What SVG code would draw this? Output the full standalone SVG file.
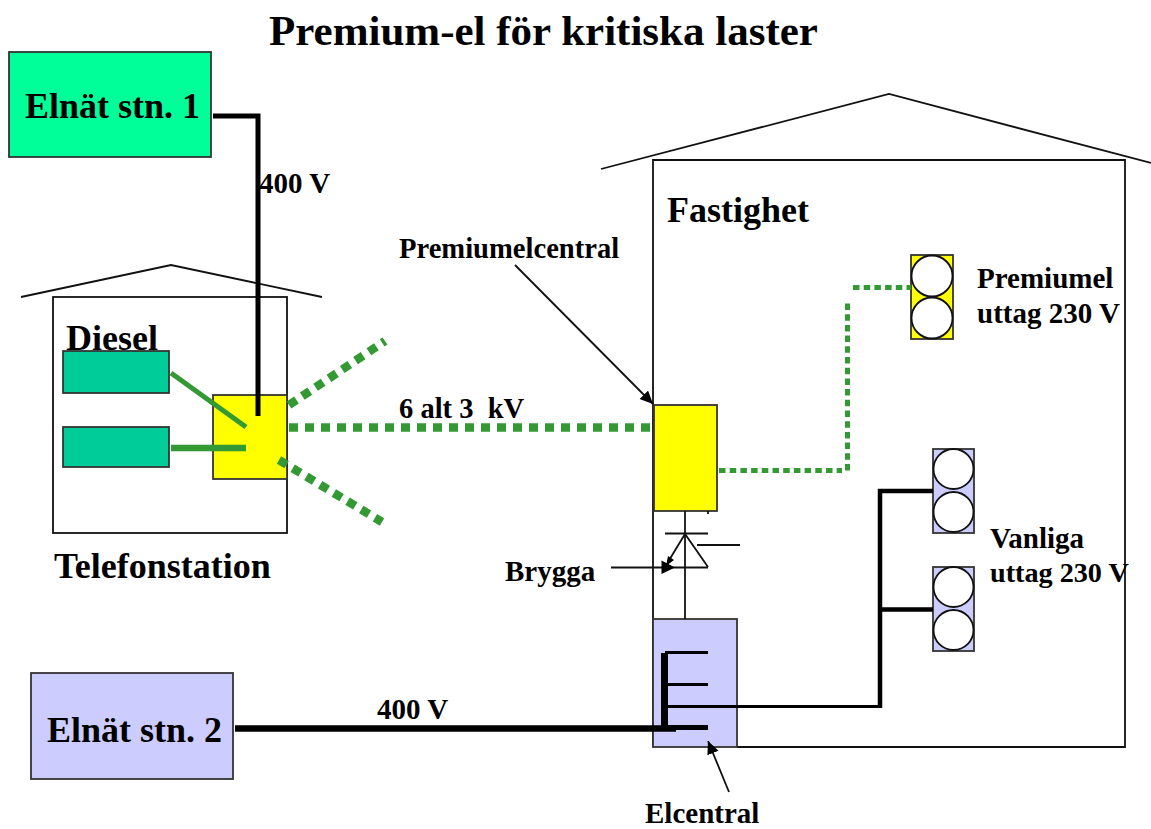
<svg xmlns="http://www.w3.org/2000/svg" width="1151" height="829" viewBox="0 0 1151 829">
<style>
text{font-family:"Liberation Serif","Times New Roman",serif;font-weight:bold;fill:#000}
.t33{font-size:36px}.t27{font-size:29px}
.box{stroke:#333;stroke-width:1.8}
.o{fill:none;stroke:#111;stroke-width:1.8}
.c{fill:#fff;stroke:#111;stroke-width:1.8}
.k{fill:none;stroke:#000}
.g{fill:none;stroke:#339933}
.a{fill:none;stroke:#111;stroke-width:1.8}
</style>
<defs><marker id="ah" markerUnits="userSpaceOnUse" markerWidth="14" markerHeight="14" refX="13" refY="6" orient="auto"><path d="M0,0L13,6L0,12Z" fill="#000"/></marker></defs>
<rect width="1151" height="829" fill="#fff"/>
<text id="title" x="269" y="45" font-size="43px">Premium-el för kritiska laster</text>
<g id="house-fastighet"><path class="o" d="M601,169L889,94L1151,163"/><path class="o" d="M653,747V160H1125V747H737"/><text class="t33" x="667" y="222">Fastighet</text></g>
<g id="house-telefon"><path class="o" d="M21,297L171,265L322,297"/><rect class="o" x="53" y="297" width="234" height="236"/><text class="t33" x="66" y="350">Diesel</text><text class="t33" x="54" y="578">Telefonstation</text></g>
<g id="elnat1"><rect class="box" x="9" y="52" width="202" height="105" fill="#00ff99"/><text class="t33" x="25" y="118">Elnät stn. 1</text></g>
<g id="elnat2"><rect class="box" x="31" y="673" width="202" height="106" fill="#ccccff"/><text class="t33" x="47" y="742">Elnät stn. 2</text></g>
<g id="diesel1"><rect class="box" x="63" y="351" width="106" height="42" fill="#00cc99"/></g>
<g id="diesel2"><rect class="box" x="63" y="427" width="106" height="40" fill="#00cc99"/></g>
<g id="central-tele"><rect class="box" x="213" y="395" width="74" height="84" fill="#ffff00"/></g>
<g id="premiumelcentral"><rect class="box" x="654" y="405" width="63" height="106" fill="#ffff00"/></g>
<g id="elcentral"><rect class="box" x="653" y="619" width="84" height="128" fill="#ccccff"/></g>
<g id="uttag-premium"><rect class="box" x="911" y="255" width="42" height="84" fill="#ffff00"/><circle class="c" cx="932" cy="276" r="20.5"/><circle class="c" cx="932" cy="318" r="20.5"/></g>
<g id="uttag-1"><rect class="box" x="933" y="449" width="41" height="84" fill="#ccccff"/><circle class="c" cx="953.500" cy="469" r="20"/><circle class="c" cx="953.500" cy="512" r="20"/></g>
<g id="uttag-2"><rect class="box" x="933" y="567" width="41" height="84" fill="#ccccff"/><circle class="c" cx="953.500" cy="587" r="20"/><circle class="c" cx="953.500" cy="630" r="20"/></g>
<g id="connectors">
<path class="k" stroke-width="5" d="M213,116H258V416"/>
<path class="g" stroke-width="5" d="M171,373L246,427"/>
<path class="g" stroke-width="6.500" d="M171,448H246"/>
<path class="g" stroke-width="8.500" stroke-dasharray="9 7" d="M289,405L385,341"/>
<path class="g" stroke-width="8.500" stroke-dasharray="9 7" d="M289,427.500H654"/>
<path class="g" stroke-width="8.500" stroke-dasharray="9 7" d="M279,460L382,522"/>
<path class="g" stroke-width="5" stroke-dasharray="6.500 4.200" d="M719,470.500H842"/>
<path class="g" stroke-width="5" stroke-dasharray="6.500 4.200" d="M847.500,470.500V303"/>
<path class="g" stroke-width="5" stroke-dasharray="6.500 4.200" d="M853,287.500H911"/>
<path class="k" stroke-width="6.500" d="M235,728.500H676"/>
<path class="k" stroke-width="7" d="M664.500,653V726"/>
<path class="k" stroke-width="3" d="M665,652.500H708M665,684.500H708"/>
<path class="k" stroke-width="5" d="M665,727.500H708"/>
<path class="k" stroke-width="3" d="M665,706.500H880"/>
<path class="k" stroke-width="4.500" d="M880,708V491H933M880,609.500H933"/>
<path class="a" d="M685,511V619"/>
<path class="a" d="M665,533.500H708M697,545H740M708,511V514"/>
<path class="a" d="M708,567L685,534L668,562"/>
<path class="a" d="M611,567.500H708"/>
<path d="M661.500,560.500L675,567.500L661.500,574Z" fill="#000"/>
<path d="M666,566L668,556L674,560Z" fill="#000"/>
<path class="a" marker-end="url(#ah)" d="M515,265L653,404"/>
<path class="a" marker-end="url(#ah)" d="M729,792L708,741"/>
</g>
<text class="t27" x="259" y="193">400 V</text>
<text class="t27" x="377" y="719">400 V</text>
<text x="399" y="417.500" font-size="28.500px" xml:space="preserve">6 alt 3  kV</text>
<text x="399" y="257.500" font-size="28.600px">Premiumelcentral</text>
<text class="t27" x="505" y="580.500">Brygga</text>
<text class="t27" x="645" y="822.500">Elcentral</text>
<text class="t27" x="977" y="288">Premiumel</text>
<text class="t27" x="977" y="323">uttag 230 V</text>
<text class="t27" x="990" y="548">Vanliga</text>
<text x="990" y="582" font-size="28.200px">uttag 230 V</text>
</svg>
